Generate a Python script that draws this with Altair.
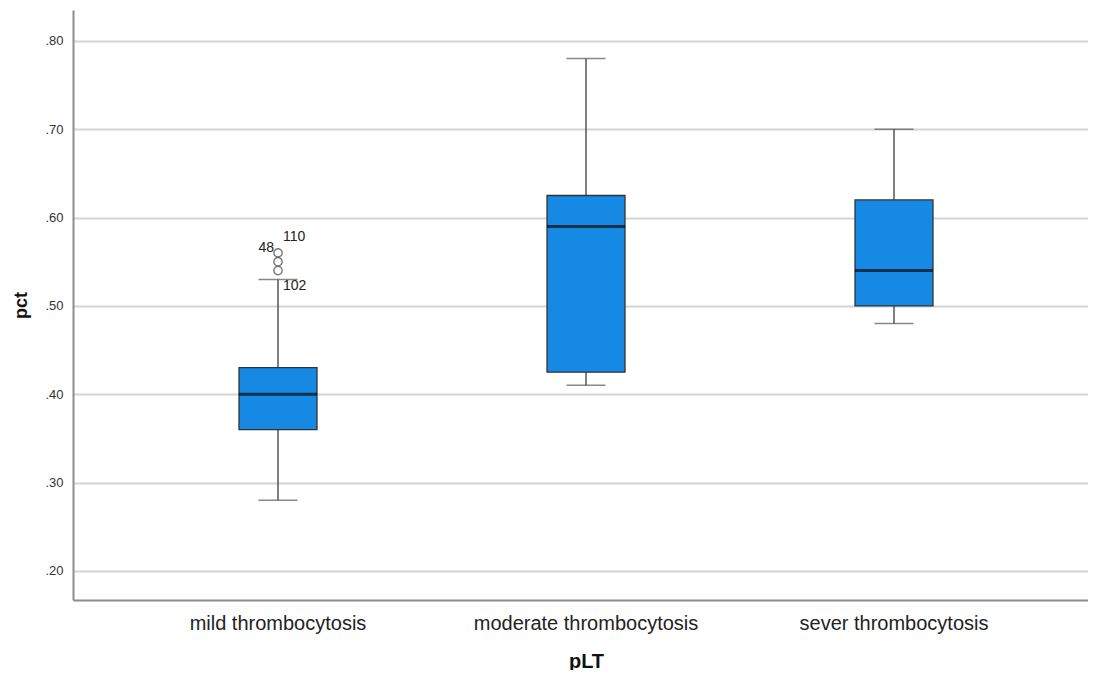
import altair as alt
import pandas as pd

groups = ["mild thrombocytosis", "moderate thrombocytosis", "sever thrombocytosis"]
whisker_low = [0.28, 0.41, 0.48]
q1 = [0.36, 0.425, 0.50]
median = [0.40, 0.59, 0.54]
q3 = [0.43, 0.625, 0.62]
whisker_high = [0.53, 0.78, 0.70]

outlier_group = ["mild thrombocytosis"] * 3
outlier_values = [0.56, 0.55, 0.54]
outlier_ids = ["110", "48", "102"]

y_ticks = [0.2, 0.3, 0.4, 0.5, 0.6, 0.7, 0.8]

box_df = pd.DataFrame({"pLT": groups, "lo": whisker_low, "q1": q1, "med": median,
                       "q3": q3, "hi": whisker_high})
out_df = pd.DataFrame({"pLT": outlier_group, "pct": outlier_values, "id": outlier_ids})

x_enc = alt.X("pLT:N", sort=groups, title="pLT",
              scale=alt.Scale(range=[0, 1026], paddingOuter=0.1656, paddingInner=0),
              axis=alt.Axis(labelAngle=0, ticks=False, grid=False, labelPadding=13,
                            labelFontSize=20, labelColor="#222", labelLimit=600,
                            titleFontSize=20, labelOverlap=False,
                            titleFontWeight="bold", titleColor="#111", titlePadding=18,
                            domainColor="#8c8c8c", domainWidth=2, labelFont="Liberation Sans",
                            titleFont="Liberation Sans"))
y_scale = alt.Scale(domain=[0.167, 0.835], nice=False, zero=False)
y_axis = alt.Axis(values=y_ticks, labelExpr="substring(format(datum.value, '.2f'), 1)",
                  ticks=False, labelPadding=10, labelFontSize=13, labelColor="#333",
                  gridColor="#d4d4d4", gridWidth=2, domainColor="#8c8c8c", domainWidth=2,
                  titleFontSize=18, titleFontWeight="bold", titleColor="#111",
                  titlePadding=14, labelFont="Liberation Sans", titleFont="Liberation Sans")

base = alt.Chart(box_df)

whisk = base.mark_rule(color="#555", strokeWidth=1.5).encode(
    x=x_enc, y=alt.Y("lo:Q", scale=y_scale, axis=y_axis, title="pct"), y2="hi:Q")
caps_lo = base.mark_tick(color="#555", size=39, thickness=1.5).encode(x=x_enc, y=alt.Y("lo:Q"))
caps_hi = base.mark_tick(color="#555", size=39, thickness=1.5).encode(x=x_enc, y=alt.Y("hi:Q"))
box = base.mark_bar(size=78, color="#1589e3", stroke="#333", strokeWidth=1.3).encode(
    x=x_enc, y=alt.Y("q1:Q"), y2="q3:Q")
med = base.mark_tick(color="#0a0a0a", size=78, thickness=3).encode(x=x_enc, y=alt.Y("med:Q"))

ob = alt.Chart(out_df)
pts = ob.mark_point(shape="circle", filled=False, size=70, color="#444", strokeWidth=1.4).encode(
    x=x_enc, y=alt.Y("pct:Q"))
txt_common = dict(fontSize=14, font="Liberation Sans", color="#222", baseline="middle")
t110 = ob.transform_filter(alt.datum.id == "110").mark_text(align="left", dx=5, dy=-16, **txt_common).encode(
    x=x_enc, y=alt.Y("pct:Q"), text="id:N")
t48 = ob.transform_filter(alt.datum.id == "48").mark_text(align="right", dx=-4, dy=-14, **txt_common).encode(
    x=x_enc, y=alt.Y("pct:Q"), text="id:N")
t102 = ob.transform_filter(alt.datum.id == "102").mark_text(align="left", dx=5, dy=15, **txt_common).encode(
    x=x_enc, y=alt.Y("pct:Q"), text="id:N")

chart = alt.layer(whisk, caps_lo, caps_hi, box, med, pts, t110, t48, t102).properties(
    width=1015, height=590,
    autosize=alt.AutoSizeParams(type="none"),
    padding={"left": 65, "top": 2, "right": 0, "bottom": 70},
).configure_view(stroke=None).configure_axis(labelFont="Liberation Sans")

chart.save("out.html", embed_options={"renderer": "svg", "actions": False})
